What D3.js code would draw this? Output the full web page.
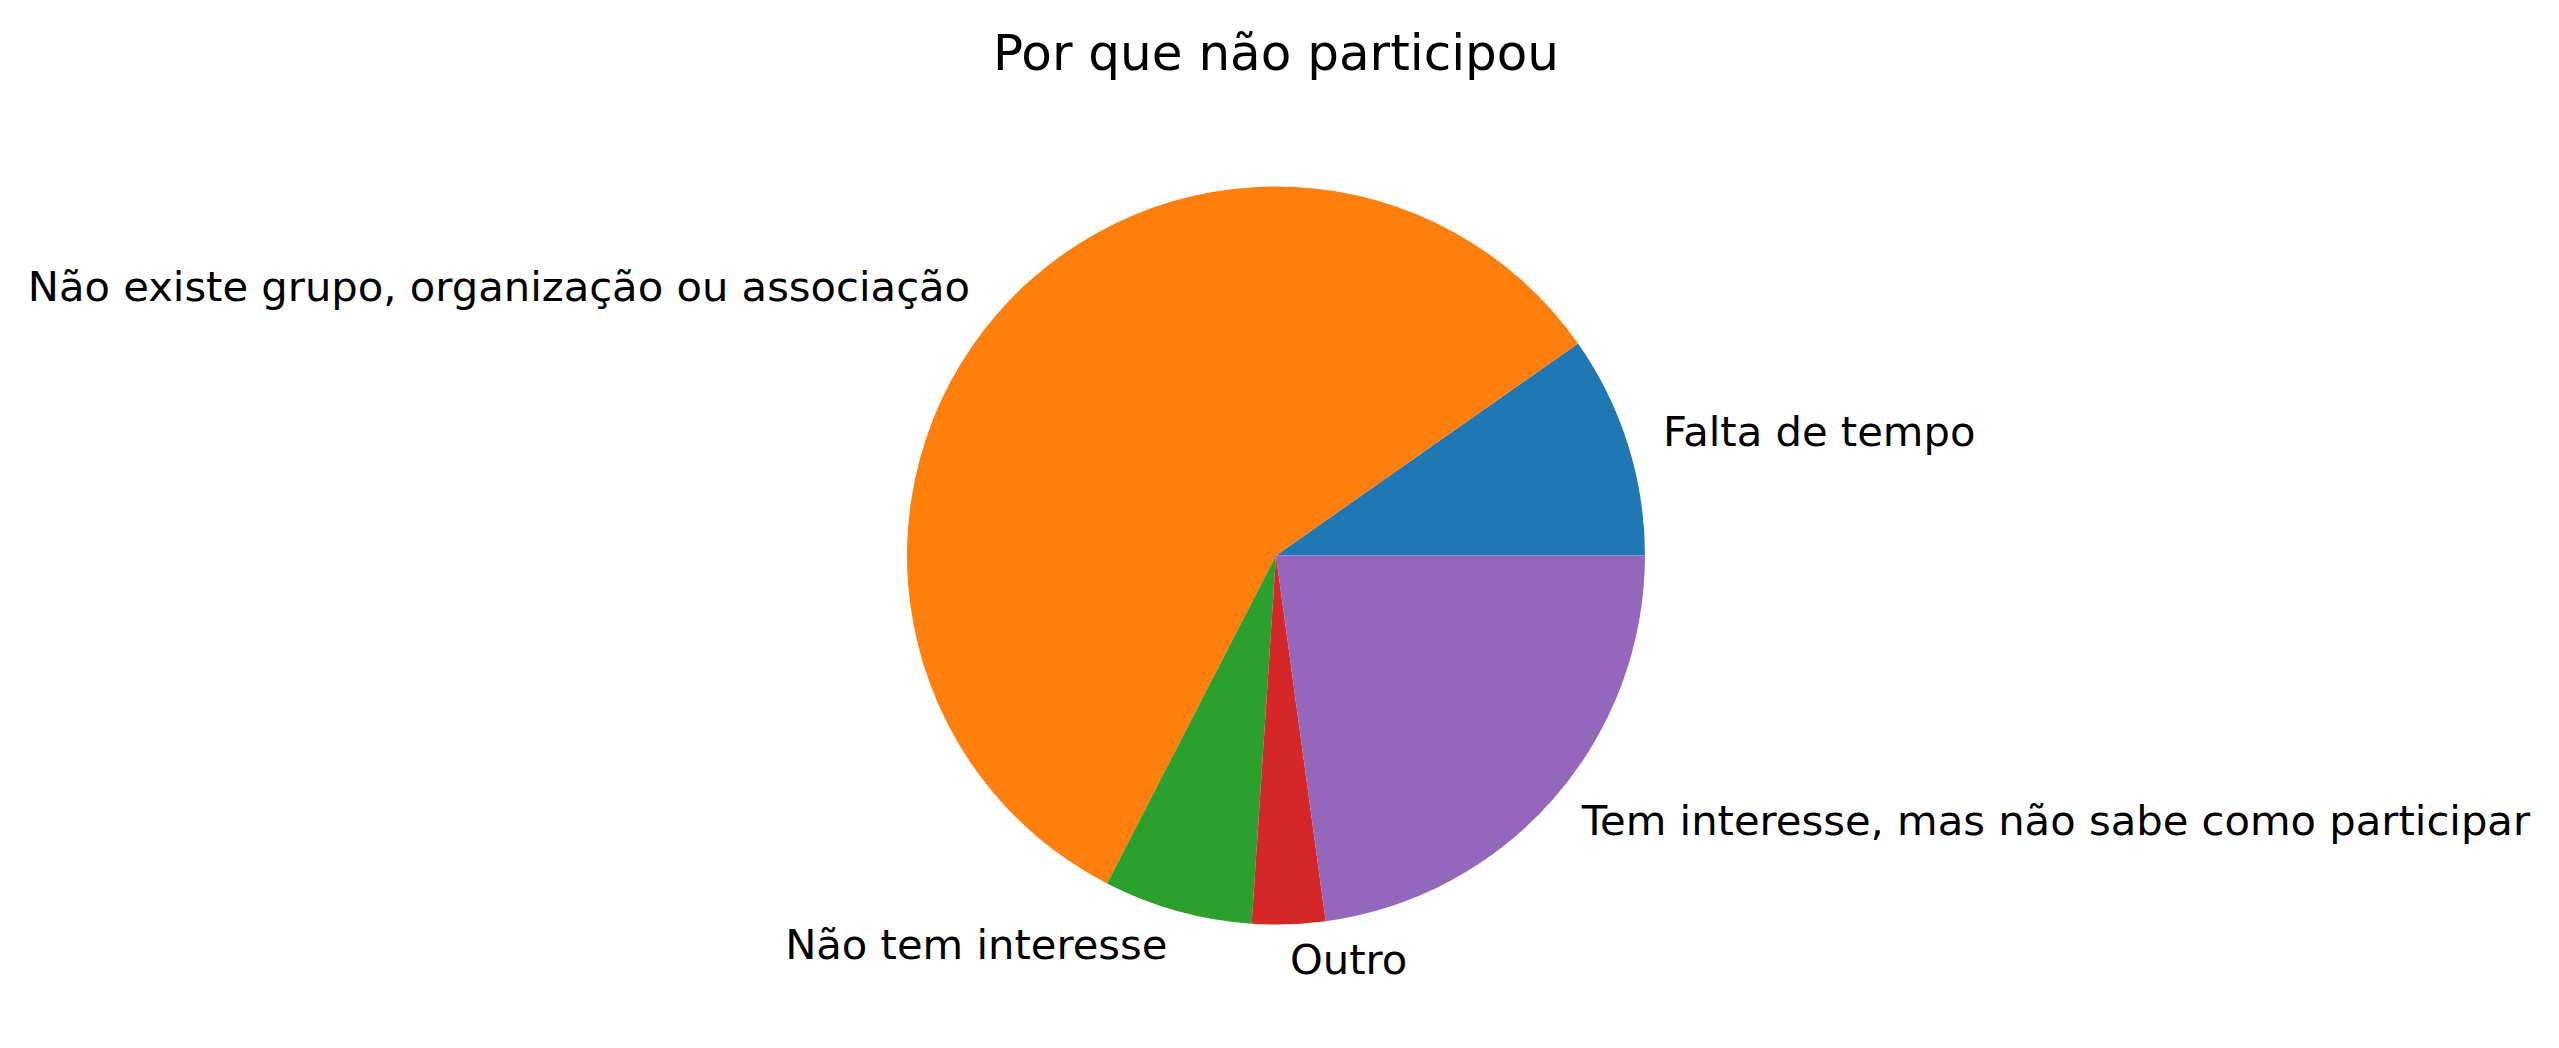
<!DOCTYPE html>
<html>
<head>
<meta charset="utf-8">
<script src="https://cdn.jsdelivr.net/npm/d3@7"></script>
<style>
  html, body { margin: 0; padding: 0; background: #ffffff; }
  svg { display: block; }
  text { font-family: "DejaVu Sans", sans-serif; fill: #000; }
</style>
</head>
<body>
<script>
const categories = [
  "Falta de tempo",
  "Não existe grupo, organização ou associação",
  "Não tem interesse",
  "Outro",
  "Tem interesse, mas não sabe como participar"
];
const values = [9.74, 57.69, 6.52, 3.20, 22.85];
const colors = ["#1f77b4", "#ff7f0e", "#2ca02c", "#d62728", "#9467bd"];
const title = "Por que não participou";

const W = 2559, H = 1048;
const cx = 1276, cy = 555.5, r = 369;

const svg = d3.select("body").append("svg")
  .attr("width", W).attr("height", H);

const data = categories.map((c, i) => ({ label: c, value: values[i], color: colors[i] }));

// matplotlib style: start at 3 o'clock, counter-clockwise
const pie = d3.pie()
  .value(d => d.value)
  .sort(null)
  .startAngle(Math.PI / 2)
  .endAngle(Math.PI / 2 - 2 * Math.PI);

const arcs = pie(data);
const arc = d3.arc().innerRadius(0).outerRadius(r);

const g = svg.append("g").attr("transform", `translate(${cx},${cy})`);

g.selectAll("path.slice")
  .data(arcs)
  .join("path")
  .attr("class", "slice")
  .attr("d", arc)
  .attr("fill", d => d.data.color);

const lr = r * 1.1;
g.selectAll("text.lbl")
  .data(arcs)
  .join("text")
  .attr("class", "lbl")
  .attr("x", d => lr * Math.sin((d.startAngle + d.endAngle) / 2))
  .attr("y", d => -lr * Math.cos((d.startAngle + d.endAngle) / 2) - 2)
  .attr("text-anchor", d => Math.sin((d.startAngle + d.endAngle) / 2) > 0 ? "start" : "end")
  .attr("dominant-baseline", "central")
  .attr("font-size", 41.7)
  .text(d => d.data.label);

svg.append("text")
  .attr("x", cx)
  .attr("y", 70)
  .attr("text-anchor", "middle")
  .attr("font-size", 50)
  .text(title);
</script>
</body>
</html>
